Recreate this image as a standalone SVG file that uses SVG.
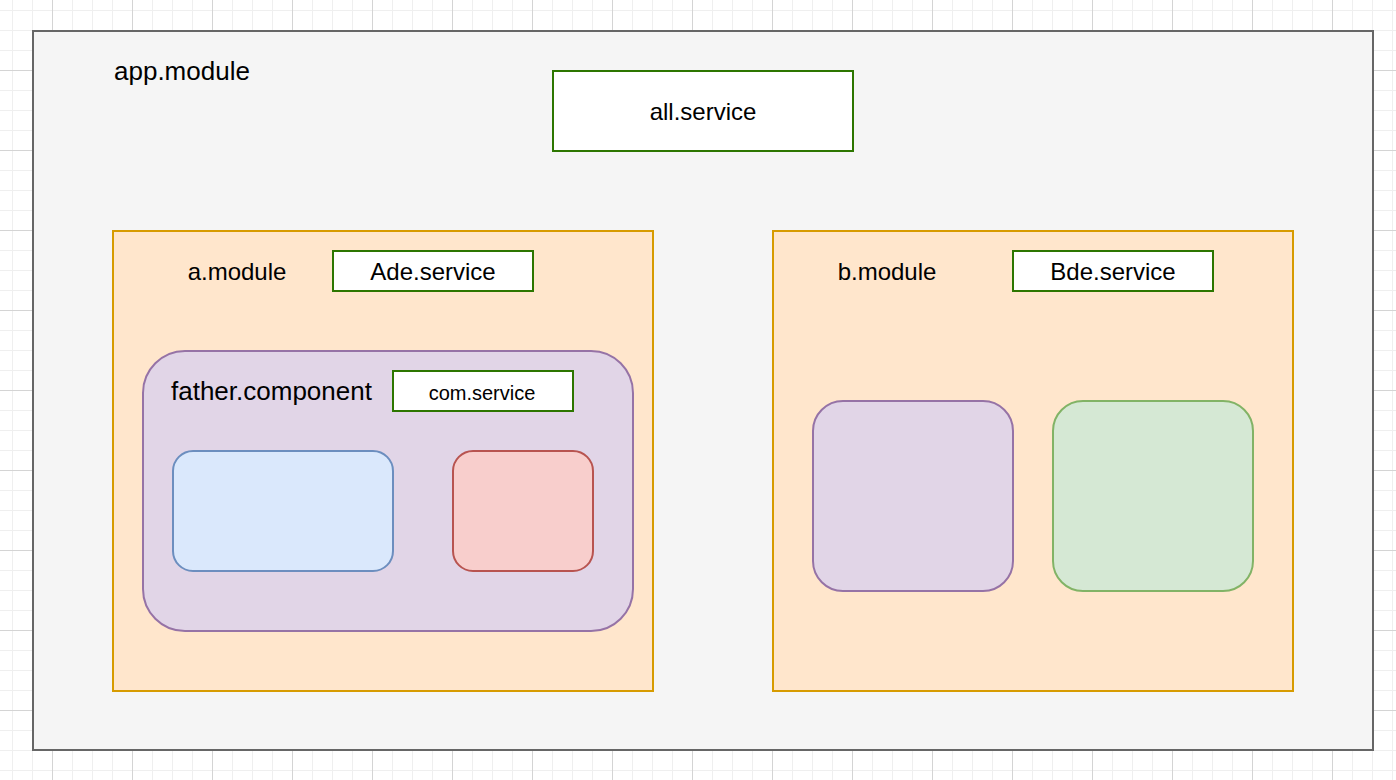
<svg xmlns="http://www.w3.org/2000/svg" width="1396" height="780" viewBox="0 0 1396 780">
  <defs>
    <pattern id="minor" patternUnits="userSpaceOnUse" x="12" y="10" width="20" height="20">
      <rect x="0" y="0" width="1" height="20" fill="#efefef"/>
      <rect x="0" y="0" width="20" height="1" fill="#efefef"/>
    </pattern>
    <pattern id="major" patternUnits="userSpaceOnUse" x="52" y="70" width="80" height="80">
      <rect x="0" y="0" width="1" height="80" fill="#d4d4d4"/>
      <rect x="0" y="0" width="80" height="1" fill="#d4d4d4"/>
    </pattern>
    <style>
      text { font-family: "Liberation Sans", Arial, Helvetica, sans-serif; fill: #000000; }
      .svc { fill: #ffffff; stroke: #2d7600; stroke-width: 2; }
      .mod { fill: #ffe6cc; stroke: #d79b00; stroke-width: 2; }
      .purple { fill: #e1d5e7; stroke: #9673a6; stroke-width: 2; }
      .blue { fill: #dae8fc; stroke: #6c8ebf; stroke-width: 2; }
      .red { fill: #f8cecc; stroke: #b85450; stroke-width: 2; }
      .green { fill: #d5e8d4; stroke: #82b366; stroke-width: 2; }
      .t24 { font-size: 24px; }
      .t26 { font-size: 26px; }
      .t20 { font-size: 20px; }
      .mid { text-anchor: middle; }
    </style>
  </defs>

  <rect x="0" y="0" width="1396" height="780" fill="#ffffff"/>
  <rect x="0" y="0" width="1396" height="780" fill="url(#minor)"/>
  <rect x="0" y="0" width="1396" height="780" fill="url(#major)"/>

  <g id="app-module">
    <rect x="33" y="31" width="1340" height="719" fill="#f5f5f5" stroke="#666666" stroke-width="2"/>
    <text class="t26" x="114" y="80">app.module</text>
  </g>

  <g id="all-service">
    <rect class="svc" x="553" y="71" width="300" height="80"/>
    <text class="t24 mid" x="703" y="120">all.service</text>
  </g>

  <g id="a-module">
    <rect class="mod" x="113" y="231" width="540" height="460"/>
    <text class="t24 mid" x="237" y="280">a.module</text>
  </g>

  <g id="ade-service">
    <rect class="svc" x="333" y="251" width="200" height="40"/>
    <text class="t24 mid" x="433" y="280">Ade.service</text>
  </g>

  <g id="father-component">
    <rect class="purple" x="143" y="351" width="490" height="280" rx="42" ry="42"/>
    <text class="t26" x="171" y="400">father.component</text>
  </g>

  <g id="com-service">
    <rect class="svc" x="393" y="371" width="180" height="40"/>
    <text class="t20 mid" x="482" y="400">com.service</text>
  </g>

  <g id="blue-component">
    <rect class="blue" x="173" y="451" width="220" height="120" rx="20" ry="20"/>
  </g>

  <g id="red-component">
    <rect class="red" x="453" y="451" width="140" height="120" rx="20" ry="20"/>
  </g>

  <g id="b-module">
    <rect class="mod" x="773" y="231" width="520" height="460"/>
    <text class="t24 mid" x="887" y="280">b.module</text>
  </g>

  <g id="bde-service">
    <rect class="svc" x="1013" y="251" width="200" height="40"/>
    <text class="t24 mid" x="1113" y="280">Bde.service</text>
  </g>

  <g id="purple-component">
    <rect class="purple" x="813" y="401" width="200" height="190" rx="30" ry="30"/>
  </g>

  <g id="green-component">
    <rect class="green" x="1053" y="401" width="200" height="190" rx="30" ry="30"/>
  </g>

  <g id="connectors"></g>
</svg>
